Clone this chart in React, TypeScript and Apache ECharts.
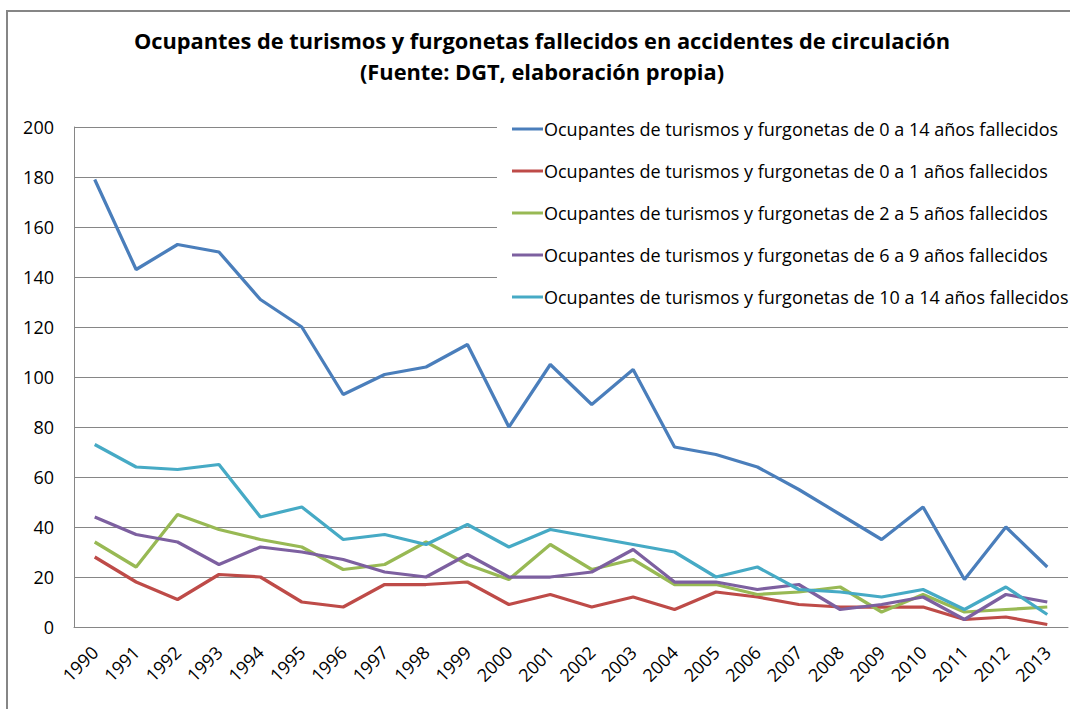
import React, { useEffect, useRef } from "react";
import * as echarts from "echarts";

const years = ["1990","1991","1992","1993","1994","1995","1996","1997","1998","1999","2000","2001","2002","2003","2004","2005","2006","2007","2008","2009","2010","2011","2012","2013"];
const yTicks = [0, 20, 40, 60, 80, 100, 120, 140, 160, 180, 200];

const age0to14 = [179,143,153,150,131,120,93,101,104,113,80,105,89,103,72,69,64,55,45,35,48,19,40,24];
const age0to1 = [28,18,11,21,20,10,8,17,17,18,9,13,8,12,7,14,12,9,8,8,8,3,4,1];
const age2to5 = [34,24,45,39,35,32,23,25,34,25,19,33,23,27,17,17,13,14,16,6,13,6,7,8];
const age6to9 = [44,37,34,25,32,30,27,22,20,29,20,20,22,31,18,18,15,17,7,9,12,3,13,10];
const age10to14 = [73,64,63,65,44,48,35,37,33,41,32,39,36,33,30,20,24,15,14,12,15,7,16,5];

const seriesNames = [
  "Ocupantes de turismos y furgonetas de 0 a 14 años fallecidos",
  "Ocupantes de turismos y furgonetas de 0 a 1 años fallecidos",
  "Ocupantes de turismos y furgonetas de 2 a 5 años fallecidos",
  "Ocupantes de turismos y furgonetas de 6 a 9 años fallecidos",
  "Ocupantes de turismos y furgonetas de 10 a 14 años fallecidos",
];
const seriesData = [age0to14, age0to1, age2to5, age6to9, age10to14];
const colors = ["#4A7EBB", "#BE4B48", "#98B954", "#7D60A0", "#46AAC5"];

const FONT = "'Open Sans', sans-serif";

export default function App() {
  const ref = useRef<HTMLDivElement>(null);
  useEffect(() => {
    if (!ref.current) return;
    const chart = echarts.init(ref.current, null, { renderer: "svg" });
    chart.setOption({
      animation: false,
      backgroundColor: "#ffffff",
      textStyle: { fontFamily: FONT },
      title: {
        text: "Ocupantes de turismos y furgonetas fallecidos en accidentes de circulación\n(Fuente: DGT, elaboración propia)",
        left: 537,
        top: 20,
        textAlign: "center",
        textStyle: { fontFamily: FONT, fontSize: 21.8, fontWeight: "bold", color: "#000", lineHeight: 31 },
      },
      graphic: [
        {
          type: "rect",
          shape: { x: 7, y: 11, width: 1200, height: 900 },
          style: { fill: "none", stroke: "#868686", lineWidth: 2 },
          silent: true,
          z: 100,
        },
      ],
      legend: {
        orient: "vertical",
        left: 497,
        top: 113,
        padding: [7, 20, 10, 15],
        backgroundColor: "#ffffff",
        icon: "rect",
        itemWidth: 31,
        itemHeight: 3,
        itemGap: 24,
        textStyle: { fontFamily: FONT, fontSize: 18, color: "#000", lineHeight: 14, padding: [0, 0, 0, -4] },
        data: seriesNames,
      },
      grid: { left: 74, top: 127, right: 2, bottom: 82, containLabel: false },
      xAxis: {
        type: "category",
        data: years,
        boundaryGap: true,
        axisLine: { lineStyle: { color: "#868686", width: 1 } },
        axisTick: { show: false },
        axisLabel: { rotate: 45, fontFamily: FONT, fontSize: 18, color: "#000", margin: 22, interval: 0 },
      },
      yAxis: {
        type: "value",
        min: yTicks[0],
        max: yTicks[yTicks.length - 1],
        interval: 20,
        axisLine: { show: true, lineStyle: { color: "#868686", width: 1 } },
        axisTick: { show: false },
        splitLine: { lineStyle: { color: "#868686", width: 1 } },
        axisLabel: { fontFamily: FONT, fontSize: 18, color: "#000", margin: 20 },
      },
      series: seriesNames.map((name, i) => ({
        name,
        type: "line",
        data: seriesData[i],
        symbol: "none",
        lineStyle: { color: colors[i], width: 3.25 },
        itemStyle: { color: colors[i] },
        z: 2 + i,
      })),
    });
    return () => chart.dispose();
  }, []);
  return (
    <div
      ref={ref}
      style={{ position: "fixed", left: 0, top: 0, width: 1070, height: 709 }}
    />
  );
}
